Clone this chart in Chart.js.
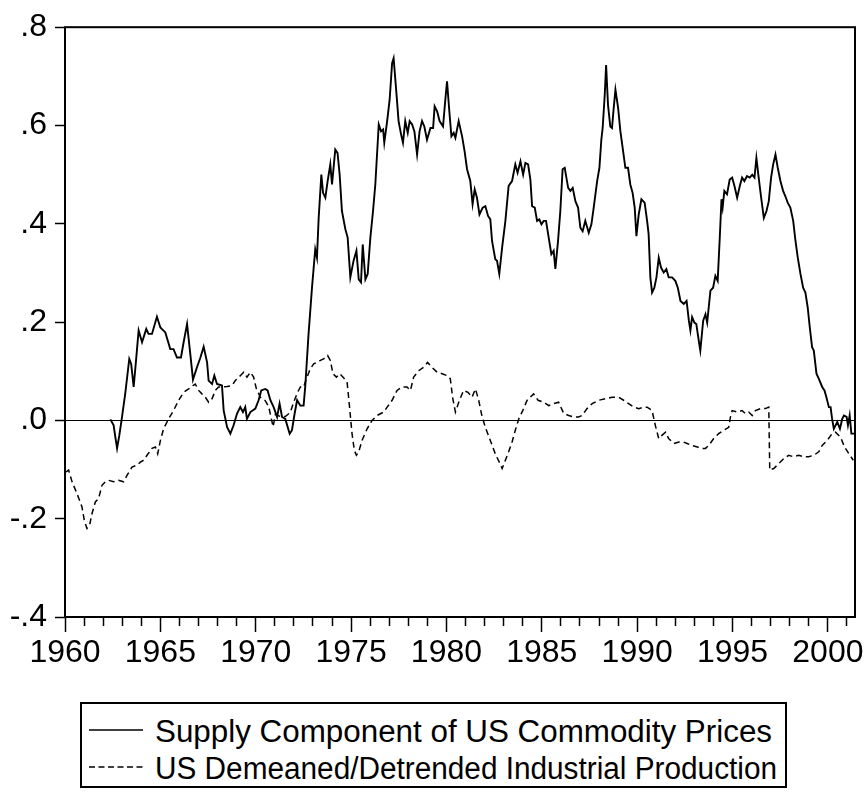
<!DOCTYPE html>
<html>
<head>
<meta charset="utf-8">
<script src="https://cdn.jsdelivr.net/npm/chart.js@4.4.1/dist/chart.umd.min.js"></script>
<style>
  html, body { margin:0; padding:0; background:#fff; }
  #wrap { position:relative; width:866px; height:792px; }
  #legend { position:absolute; left:80px; top:702px; width:707px; height:86px; border:2px solid #000; box-sizing:border-box; background:#fff; }
  #legend svg { position:absolute; left:0; top:0; }
</style>
</head>
<body>
<div id="wrap">
  <canvas id="c" width="866" height="792"></canvas>
  <div id="legend"></div>
</div>
<script>
// ---- data ----
const supplyYears = [1962.38,1962.55,1962.64,1962.73,1962.85,1962.99,1963.16,1963.37,1963.47,1963.6,1963.72,1963.86,1964.04,1964.26,1964.38,1964.56,1964.82,1965.0,1965.26,1965.52,1965.69,1965.87,1966.08,1966.22,1966.4,1966.57,1966.71,1966.92,1967.1,1967.27,1967.45,1967.53,1967.71,1967.83,1967.97,1968.23,1968.32,1968.5,1968.67,1968.84,1969.02,1969.19,1969.33,1969.45,1969.54,1969.72,1969.98,1970.15,1970.29,1970.5,1970.62,1970.77,1970.94,1971.12,1971.25,1971.38,1971.55,1971.78,1971.9,1972.04,1972.17,1972.34,1972.51,1972.6,1972.77,1972.95,1973.12,1973.21,1973.3,1973.44,1973.53,1973.65,1973.77,1973.91,1974.0,1974.17,1974.29,1974.4,1974.52,1974.7,1974.82,1974.96,1975.13,1975.28,1975.4,1975.52,1975.61,1975.75,1975.87,1976.01,1976.15,1976.27,1976.45,1976.57,1976.68,1976.74,1976.89,1977.02,1977.15,1977.23,1977.37,1977.49,1977.62,1977.72,1977.84,1977.97,1978.07,1978.2,1978.32,1978.46,1978.59,1978.72,1978.84,1978.98,1979.16,1979.3,1979.38,1979.51,1979.64,1979.82,1979.94,1980.03,1980.15,1980.26,1980.38,1980.47,1980.64,1980.82,1980.95,1981.08,1981.25,1981.37,1981.48,1981.6,1981.73,1981.9,1982.04,1982.18,1982.3,1982.39,1982.56,1982.65,1982.77,1982.92,1983.09,1983.26,1983.44,1983.61,1983.73,1983.88,1984.02,1984.14,1984.28,1984.4,1984.49,1984.63,1984.75,1984.87,1984.98,1985.1,1985.22,1985.36,1985.5,1985.62,1985.71,1985.85,1985.97,1986.09,1986.2,1986.38,1986.5,1986.62,1986.76,1986.9,1987.02,1987.14,1987.28,1987.46,1987.6,1987.72,1987.9,1988.02,1988.12,1988.19,1988.3,1988.37,1988.47,1988.59,1988.68,1988.77,1988.86,1989.0,1989.12,1989.24,1989.38,1989.52,1989.64,1989.76,1989.87,1989.96,1990.08,1990.22,1990.39,1990.52,1990.6,1990.69,1990.78,1990.9,1991.01,1991.13,1991.25,1991.39,1991.53,1991.65,1991.83,1992.0,1992.13,1992.27,1992.44,1992.59,1992.71,1992.79,1992.88,1993.0,1993.1,1993.23,1993.31,1993.46,1993.58,1993.67,1993.84,1993.98,1994.1,1994.22,1994.33,1994.42,1994.48,1994.57,1994.71,1994.85,1994.98,1995.1,1995.24,1995.38,1995.5,1995.62,1995.76,1995.9,1996.03,1996.15,1996.25,1996.37,1996.5,1996.64,1996.78,1996.9,1997.02,1997.13,1997.25,1997.37,1997.51,1997.65,1997.77,1997.89,1998.03,1998.18,1998.3,1998.42,1998.56,1998.7,1998.82,1998.94,1999.05,1999.17,1999.26,1999.4,1999.52,1999.7,1999.82,1999.92,2000.05,2000.14,2000.22,2000.31,2000.4,2000.49,2000.63,2000.75,2000.84,2000.98,2001.05,2001.14,2001.23,2001.37];
const supplyValues = [0.002,-0.010,-0.034,-0.057,-0.030,0.007,0.055,0.125,0.115,0.068,0.120,0.183,0.159,0.186,0.176,0.176,0.211,0.189,0.179,0.145,0.145,0.128,0.128,0.159,0.196,0.135,0.083,0.108,0.128,0.150,0.118,0.081,0.074,0.091,0.074,0.071,0.020,-0.014,-0.027,-0.010,0.014,0.027,0.017,0.027,0.003,0.017,0.024,0.041,0.061,0.064,0.061,0.041,0.027,0.007,0.034,0.007,0.003,-0.027,-0.020,0.014,0.041,0.030,0.030,0.071,0.176,0.270,0.348,0.331,0.412,0.500,0.463,0.453,0.487,0.521,0.480,0.551,0.544,0.500,0.426,0.389,0.372,0.291,0.325,0.345,0.287,0.281,0.358,0.287,0.298,0.372,0.426,0.480,0.602,0.588,0.592,0.565,0.609,0.652,0.727,0.737,0.669,0.609,0.582,0.565,0.609,0.585,0.609,0.602,0.588,0.541,0.588,0.609,0.598,0.571,0.595,0.595,0.639,0.629,0.609,0.598,0.652,0.690,0.629,0.578,0.585,0.575,0.609,0.578,0.548,0.511,0.487,0.440,0.470,0.453,0.419,0.433,0.436,0.416,0.409,0.365,0.328,0.325,0.298,0.352,0.406,0.477,0.487,0.521,0.504,0.527,0.500,0.524,0.521,0.490,0.436,0.433,0.406,0.409,0.399,0.406,0.406,0.372,0.338,0.345,0.308,0.365,0.426,0.511,0.514,0.473,0.467,0.473,0.446,0.433,0.392,0.385,0.406,0.382,0.399,0.433,0.487,0.514,0.571,0.595,0.663,0.723,0.642,0.598,0.595,0.636,0.673,0.636,0.588,0.554,0.514,0.514,0.480,0.463,0.433,0.375,0.419,0.450,0.443,0.406,0.379,0.291,0.260,0.270,0.291,0.331,0.311,0.301,0.308,0.291,0.291,0.284,0.270,0.243,0.237,0.243,0.203,0.183,0.210,0.199,0.196,0.162,0.142,0.203,0.216,0.199,0.264,0.270,0.294,0.284,0.372,0.450,0.433,0.467,0.460,0.490,0.494,0.477,0.453,0.477,0.494,0.487,0.497,0.494,0.500,0.494,0.534,0.494,0.453,0.412,0.426,0.446,0.494,0.521,0.541,0.514,0.487,0.467,0.456,0.443,0.433,0.406,0.365,0.331,0.298,0.270,0.260,0.230,0.189,0.149,0.142,0.095,0.085,0.068,0.061,0.047,0.027,0.027,0.003,-0.017,-0.010,-0.003,-0.017,0.003,0.010,0.007,-0.010,0.010,-0.027,-0.027];

const ipYears = [1960.05,1960.19,1960.37,1960.63,1960.89,1961.01,1961.15,1961.29,1961.42,1961.59,1961.76,1961.94,1962.11,1962.29,1962.55,1962.81,1963.07,1963.25,1963.51,1963.78,1963.95,1964.12,1964.3,1964.56,1964.74,1964.86,1965.0,1965.17,1965.43,1965.69,1965.96,1966.22,1966.48,1966.71,1966.83,1967.01,1967.18,1967.36,1967.53,1967.71,1967.88,1968.05,1968.23,1968.5,1968.76,1968.93,1969.19,1969.37,1969.54,1969.72,1969.89,1970.03,1970.24,1970.5,1970.68,1970.91,1971.03,1971.29,1971.55,1971.81,1971.99,1972.17,1972.34,1972.51,1972.69,1972.86,1973.04,1973.21,1973.39,1973.56,1973.77,1973.91,1974.05,1974.23,1974.4,1974.58,1974.79,1974.92,1975.05,1975.17,1975.28,1975.4,1975.57,1975.84,1976.1,1976.36,1976.71,1976.89,1977.15,1977.41,1977.67,1977.93,1978.11,1978.28,1978.54,1978.8,1979.01,1979.24,1979.51,1979.77,1980.03,1980.2,1980.33,1980.47,1980.68,1980.9,1981.13,1981.34,1981.52,1981.69,1981.87,1982.04,1982.3,1982.56,1982.77,1982.92,1983.09,1983.26,1983.44,1983.61,1983.79,1984.0,1984.23,1984.57,1984.8,1985.1,1985.36,1985.62,1985.88,1986.15,1986.41,1986.67,1986.93,1987.11,1987.37,1987.64,1987.98,1988.33,1988.68,1989.03,1989.29,1989.55,1989.82,1990.08,1990.34,1990.52,1990.78,1990.95,1991.13,1991.31,1991.49,1991.65,1991.92,1992.19,1992.42,1992.62,1992.88,1993.15,1993.41,1993.58,1993.75,1994.01,1994.27,1994.54,1994.8,1994.89,1994.98,1995.24,1995.5,1995.67,1995.85,1996.03,1996.2,1996.46,1996.72,1996.9,1996.95,1997.16,1997.42,1997.68,1997.94,1998.2,1998.47,1998.73,1998.99,1999.26,1999.52,1999.7,1999.96,2000.22,2000.4,2000.66,2000.87,2001.1,2001.33];
const ipValues = [-0.105,-0.101,-0.125,-0.149,-0.176,-0.203,-0.220,-0.213,-0.189,-0.166,-0.159,-0.132,-0.125,-0.122,-0.125,-0.122,-0.125,-0.112,-0.095,-0.091,-0.085,-0.081,-0.071,-0.057,-0.054,-0.068,-0.041,-0.017,0.003,0.020,0.041,0.057,0.064,0.071,0.074,0.061,0.054,0.047,0.037,0.044,0.061,0.068,0.068,0.069,0.071,0.081,0.091,0.098,0.088,0.098,0.088,0.065,0.047,0.040,0.028,-0.013,0.012,0.008,0.008,0.016,0.037,0.055,0.068,0.068,0.088,0.105,0.115,0.118,0.122,0.125,0.132,0.122,0.095,0.088,0.095,0.088,0.078,0.027,-0.027,-0.061,-0.071,-0.064,-0.041,-0.017,0.000,0.010,0.017,0.027,0.041,0.061,0.068,0.068,0.061,0.088,0.101,0.108,0.118,0.108,0.098,0.095,0.091,0.085,0.045,0.017,0.041,0.061,0.057,0.047,0.064,0.041,0.007,-0.014,-0.041,-0.068,-0.085,-0.098,-0.081,-0.064,-0.044,-0.020,0.003,0.020,0.041,0.054,0.041,0.037,0.030,0.034,0.037,0.014,0.010,0.007,0.007,0.010,0.024,0.034,0.041,0.044,0.047,0.047,0.041,0.034,0.027,0.024,0.027,0.027,0.020,-0.010,-0.037,-0.030,-0.024,-0.037,-0.047,-0.044,-0.044,-0.047,-0.051,-0.054,-0.057,-0.057,-0.051,-0.037,-0.027,-0.020,-0.014,0.007,0.020,0.017,0.020,0.014,0.017,0.010,0.020,0.024,0.024,0.027,-0.101,-0.098,-0.088,-0.078,-0.071,-0.074,-0.071,-0.074,-0.074,-0.071,-0.064,-0.051,-0.041,-0.027,-0.024,-0.034,-0.054,-0.068,-0.081];

const seriesLabels = ['Supply Component of US Commodity Prices', 'US Demeaned/Detrended Industrial Production'];
const xLabelYears = [1960, 1965, 1970, 1975, 1980, 1985, 1990, 1995, 2000];
const yTickValues = [-0.4, -0.2, 0.0, 0.2, 0.4, 0.6, 0.8];

// ---- chart ----
const FONT = '"Liberation Sans", Arial, sans-serif';
const toPoints = (xs, ys) => xs.map((x, i) => ({ x: x, y: ys[i] }));

const frame = {
  id: 'frame',
  afterDraw(chart) {
    const { ctx, chartArea: a } = chart;
    ctx.save();
    ctx.strokeStyle = '#000';
    ctx.lineWidth = 2;
    ctx.strokeRect(a.left, a.top, a.right - a.left, a.bottom - a.top);
    ctx.restore();
  }
};

const isMajor = v => Math.abs(v - Math.round(v)) < 1e-6 && xLabelYears.includes(Math.round(v));

new Chart(document.getElementById('c'), {
  type: 'line',
  data: {
    datasets: [
      { label: seriesLabels[0], data: toPoints(supplyYears, supplyValues), borderColor: '#000', borderWidth: 1.9, pointRadius: 0, tension: 0, fill: false },
      { label: seriesLabels[1], data: toPoints(ipYears, ipValues), borderColor: '#000', borderWidth: 1.5, borderDash: [6, 4], pointRadius: 0, tension: 0, fill: false }
    ]
  },
  options: {
    responsive: false,
    animation: false,
    devicePixelRatio: 1,
    layout: { padding: { top: 25, right: 11, left: 0, bottom: 0 } },
    plugins: { legend: { display: false }, tooltip: { enabled: false } },
    scales: {
      x: {
        type: 'linear', min: 1960, max: 2001.42,
        afterFit: s => { s.height = 175; },
        border: { display: false },
        grid: {
          drawOnChartArea: false, tickLength: 15, tickColor: '#000', tickWidth: 1.5,
          tickBorderDash: c => (c.tick && isMajor(c.tick.value)) ? [] : [9, 40]
        },
        ticks: {
          stepSize: 1, autoSkip: false, maxRotation: 0, minRotation: 0, includeBounds: false,
          color: '#000', font: { family: FONT, size: 32 }, padding: 2,
          callback: v => isMajor(v) ? String(Math.round(v)) : ''
        }
      },
      y: {
        min: -0.4, max: 0.8,
        afterFit: s => { s.width = 65; },
        afterBuildTicks: s => { s.ticks = yTickValues.map(v => ({ value: v })); },
        border: { display: false },
        grid: {
          color: c => (c.tick && Math.abs(c.tick.value) < 1e-9) ? '#000' : 'rgba(0,0,0,0)',
          lineWidth: 1, tickLength: 10, tickColor: '#000', tickWidth: 1.5
        },
        ticks: {
          color: '#000', font: { family: FONT, size: 32 }, padding: 8,
          callback: v => { const s = Number(v).toFixed(1); return s.replace(/^(-?)0\./, '$1.'); }
        }
      }
    }
  },
  plugins: [frame]
});

// ---- legend (SVG text, built from the series labels) ----
const NS = 'http://www.w3.org/2000/svg';
const legend = document.getElementById('legend');
const svg = document.createElementNS(NS, 'svg');
svg.setAttribute('width', '703');
svg.setAttribute('height', '82');
const legendRows = [
  { label: seriesLabels[0], dash: '', width: 617 },
  { label: seriesLabels[1], dash: '6 3.5', width: 622 }
];
legendRows.forEach((r, i) => {
  const yLine = 26 + i * 37;
  const ln = document.createElementNS(NS, 'line');
  ln.setAttribute('x1', '7'); ln.setAttribute('x2', '61');
  ln.setAttribute('y1', yLine); ln.setAttribute('y2', yLine);
  ln.setAttribute('stroke', '#000'); ln.setAttribute('stroke-width', '1.5');
  if (r.dash) ln.setAttribute('stroke-dasharray', r.dash);
  svg.appendChild(ln);
  const t = document.createElementNS(NS, 'text');
  t.setAttribute('x', '73');
  t.setAttribute('y', 38 + i * 37);
  t.setAttribute('font-family', 'Liberation Sans, Arial, sans-serif');
  t.setAttribute('font-size', '31');
  t.setAttribute('fill', '#000');
  t.setAttribute('textLength', r.width);
  t.setAttribute('lengthAdjust', 'spacingAndGlyphs');
  t.textContent = r.label;
  svg.appendChild(t);
});
legend.appendChild(svg);
</script>
</body>
</html>
